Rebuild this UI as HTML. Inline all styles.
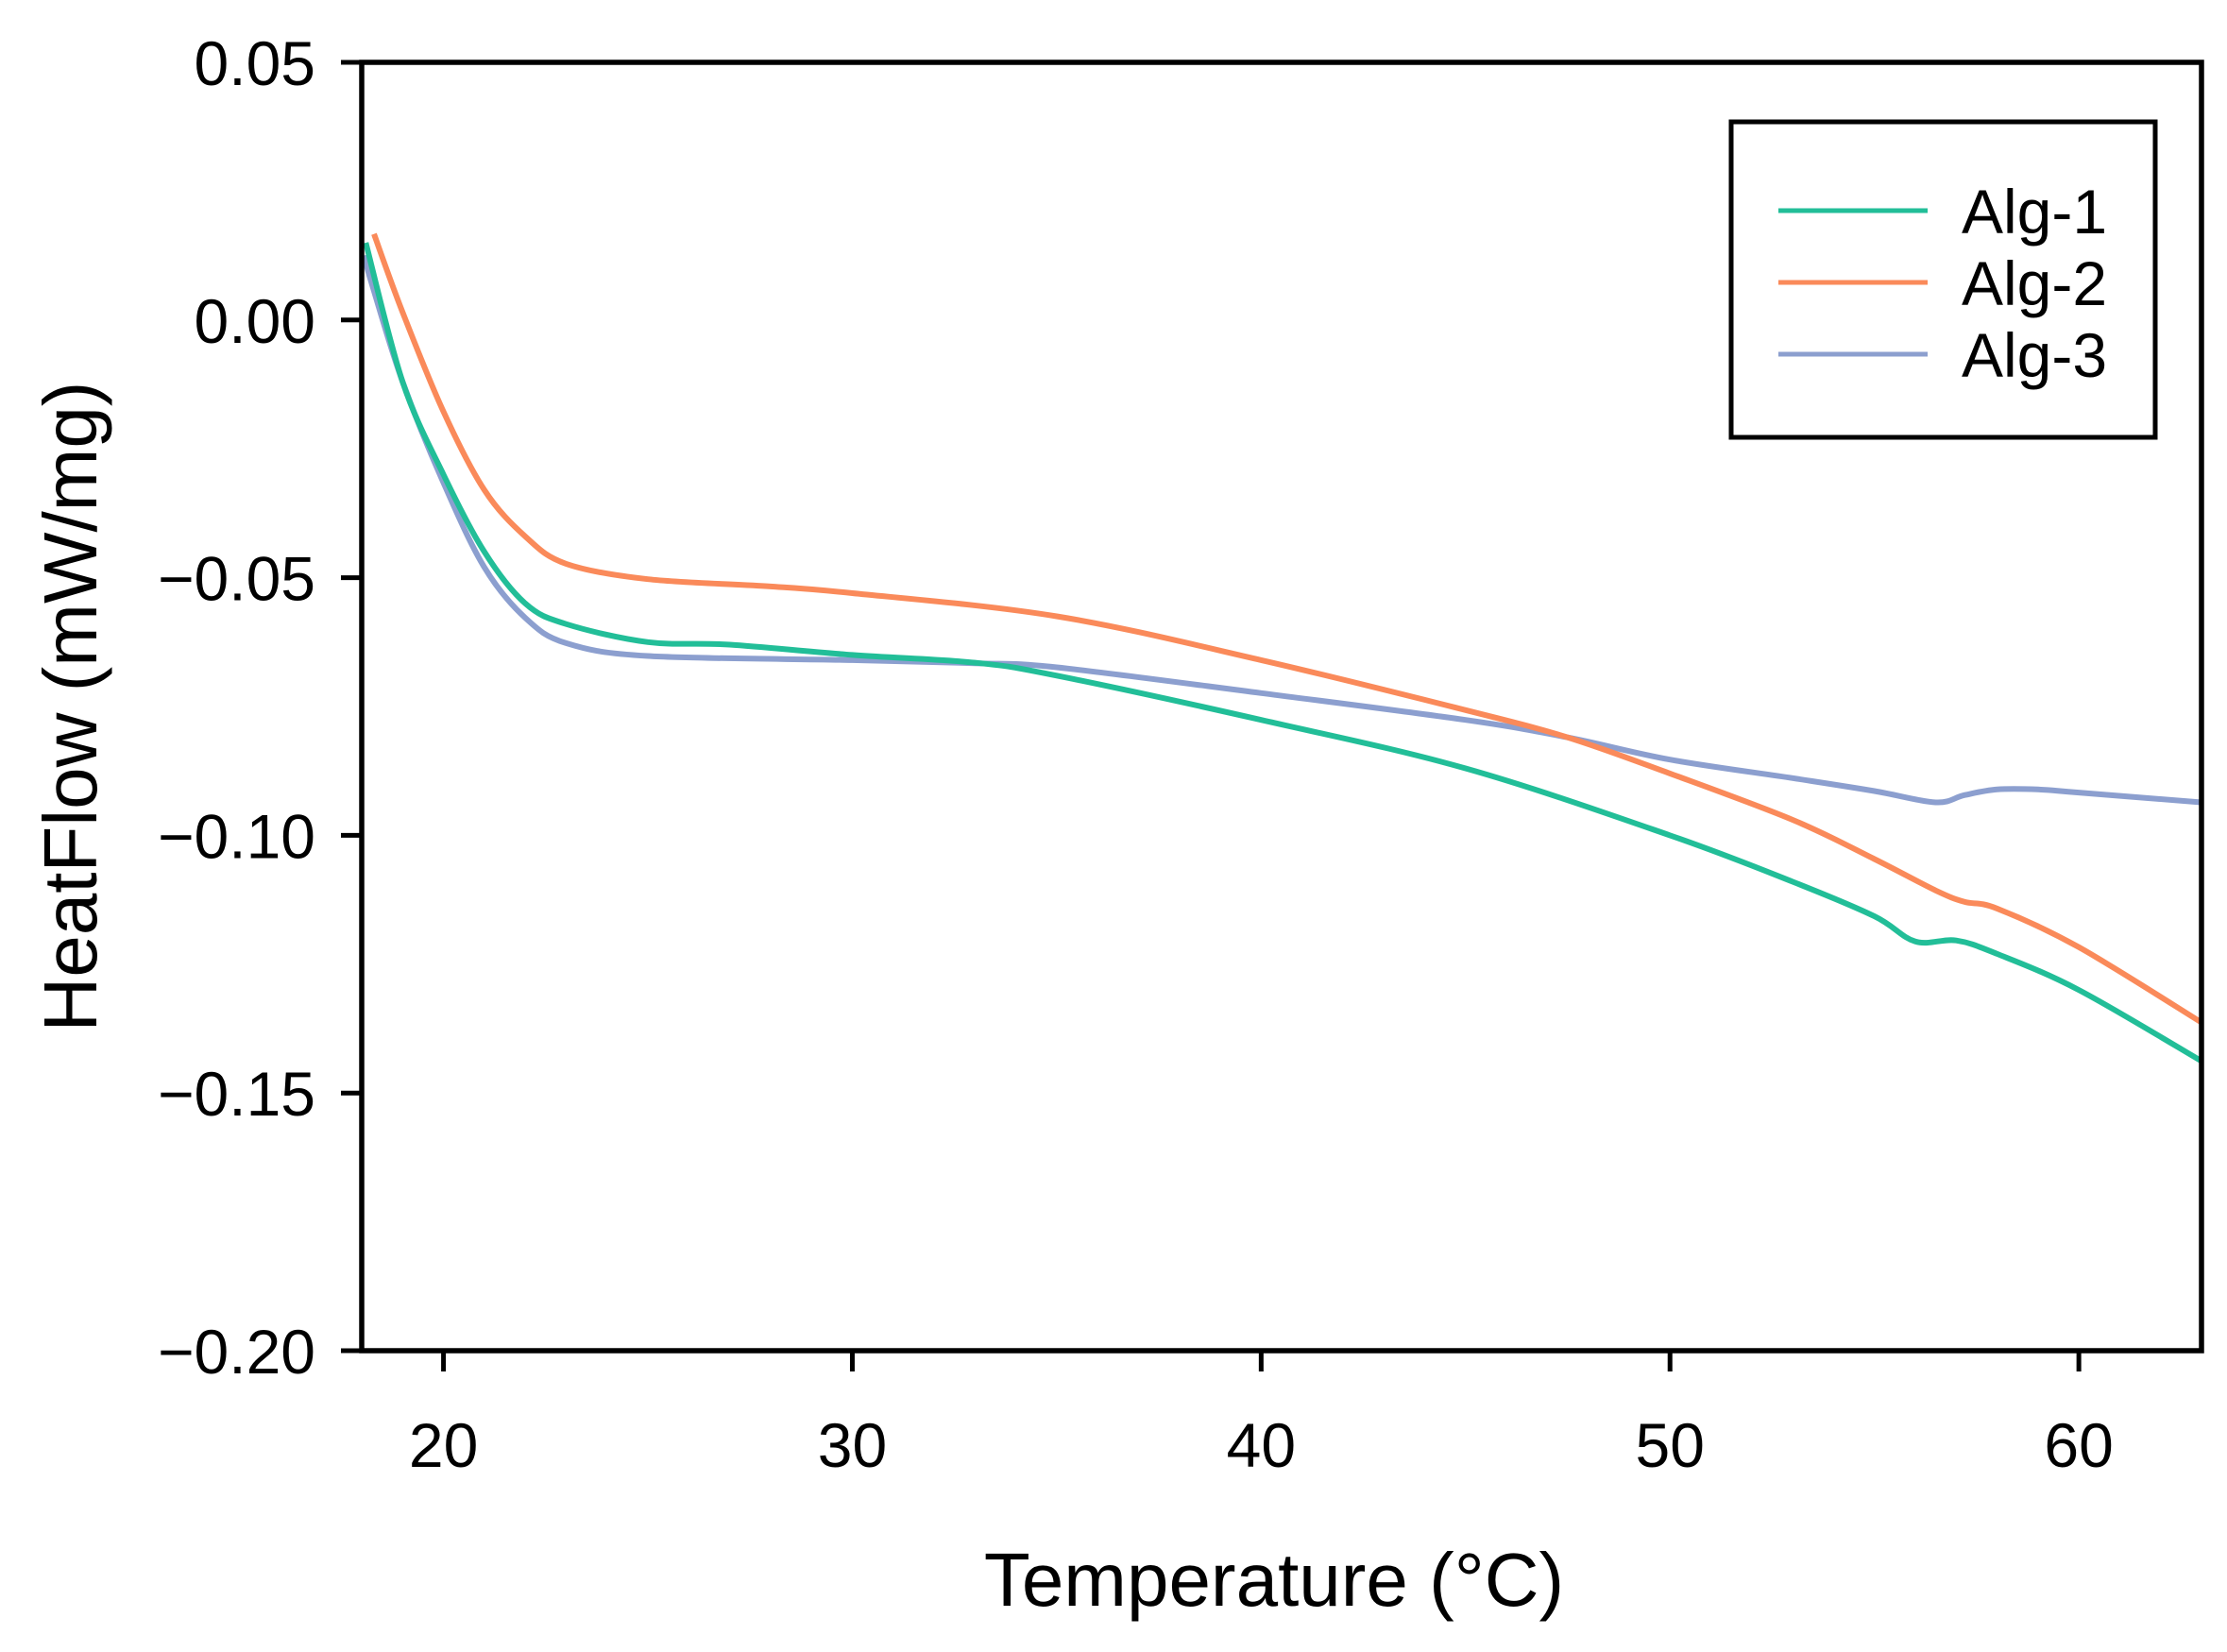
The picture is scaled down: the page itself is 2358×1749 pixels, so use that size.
<!DOCTYPE html>
<html><head><meta charset="utf-8"><style>
html,body{margin:0;padding:0;background:#fff;}
svg{display:block;font-family:"Liberation Sans",Arial,sans-serif;}
</style></head><body>
<svg id="chart" width="2358" height="1749" viewBox="0 0 2358 1749">
<g id="series"></g>
<rect x="383" y="66" width="1948" height="1364" fill="none" stroke="#000" stroke-width="5.5"/>
<g id="yticks"></g>
<g id="xticks"></g>
<text x="1349" y="1700" font-size="80" text-anchor="middle">Temperature (°C)</text>
<text transform="translate(102,748) rotate(-90)" font-size="80" text-anchor="middle">HeatFlow (mW/mg)</text>
<g>
<rect x="1833" y="129" width="449" height="334" fill="#fff" stroke="#000" stroke-width="5"/>
<g id="legend-entries"></g>
</g>
</svg>
<script>
const xTicks=[20,30,40,50,60];
const yTicks=[0.05,0,-0.05,-0.10,-0.15,-0.20];
const yTickLabels=["0.05","0.00","\u22120.05","\u22120.10","\u22120.15","\u22120.20"];
const seriesNames=["Alg-1","Alg-2","Alg-3"];
const alg1T=[18.1,19,20,21,22,23,25,27,30,33,35,40,45,50,53,55,56,57,58,60,63];
const alg1V=[0.015,-0.012,-0.030,-0.045,-0.055,-0.059,-0.0625,-0.063,-0.065,-0.0665,-0.069,-0.0776,-0.087,-0.100,-0.109,-0.1157,-0.1206,-0.1204,-0.123,-0.130,-0.1438];
const alg2T=[18.3,19,20,21,22,23,25,28,30,35,40,45,47.5,50,53,55,56.5,57.2,58,60,63];
const alg2V=[0.0167,0.0015,-0.0178,-0.033,-0.042,-0.0473,-0.0503,-0.0517,-0.053,-0.0575,-0.066,-0.0757,-0.081,-0.088,-0.097,-0.1046,-0.1107,-0.1129,-0.1142,-0.1217,-0.1363];
const alg3T=[18.05,18.3,19,20,21,22,23,25,30,33,35,40,45,47.5,50,53,55,56.5,57.2,58,59,60,63];
const alg3V=[0.0125,0.0056,-0.012,-0.0316,-0.048,-0.0578,-0.0627,-0.0652,-0.066,-0.0666,-0.0674,-0.0724,-0.0776,-0.081,-0.0853,-0.0889,-0.0914,-0.0936,-0.0922,-0.0911,-0.0911,-0.0917,-0.0936];
const colors=["#22BE98","#FA8A5A","#8C9FCF"];

const X0=383,X1=2331,Y0=66,Y1=1430,xmin=18,xmax=63,ymin=-0.20,ymax=0.05;
const sx=t=>X0+(t-xmin)/(xmax-xmin)*(X1-X0);
const sy=v=>Y1-(v-ymin)/(ymax-ymin)*(Y1-Y0);
const NS="http://www.w3.org/2000/svg";
function mk(tag,attrs,parent){const e=document.createElementNS(NS,tag);for(const k in attrs)e.setAttribute(k,attrs[k]);parent.appendChild(e);return e;}

function smoothPath(T,V){
  const p=T.map((t,i)=>[sx(t),sy(V[i])]);
  let d="M"+p[0][0].toFixed(1)+","+p[0][1].toFixed(1);
  for(let i=0;i<p.length-1;i++){
    const p0=p[i-1]||p[i],p1=p[i],p2=p[i+1],p3=p[i+2]||p2;
    const c1=[p1[0]+(p2[0]-p0[0])/6,p1[1]+(p2[1]-p0[1])/6];
    const c2=[p2[0]-(p3[0]-p1[0])/6,p2[1]-(p3[1]-p1[1])/6];
    d+="C"+c1.map(n=>n.toFixed(1)).join(",")+" "+c2.map(n=>n.toFixed(1)).join(",")+" "+p2.map(n=>n.toFixed(1)).join(",");
  }
  return d;
}
const sg=document.getElementById("series");
const data=[[alg1T,alg1V],[alg2T,alg2V],[alg3T,alg3V]];
[2,0,1].forEach(i=>{
  const path=mk("path",{d:smoothPath(data[i][0],data[i][1]),fill:"none",stroke:colors[i],"stroke-width":6,"stroke-linejoin":"round"},sg);
  
  
});
const yg=document.getElementById("yticks");
yTicks.forEach((v,i)=>{
  const l=mk("line",{x1:X0-22,x2:X0,y1:sy(v),y2:sy(v),stroke:"#000","stroke-width":5},yg);
  
  
  const t=mk("text",{x:334,y:sy(v)+24,"font-size":66,"text-anchor":"end"},yg);
  t.textContent=yTickLabels[i];
  
  
});
const xg=document.getElementById("xticks");
xTicks.forEach(v=>{
  const l=mk("line",{x1:sx(v),x2:sx(v),y1:Y1,y2:Y1+22,stroke:"#000","stroke-width":5},xg);
  
  
  const t=mk("text",{x:sx(v),y:1553,"font-size":66,"text-anchor":"middle"},xg);
  t.textContent=v;
  
  
});
const lg=document.getElementById("legend-entries");
seriesNames.forEach((n,i)=>{
  const y=223+i*76;
  const l=mk("line",{x1:1883,x2:2041,y1:y,y2:y,stroke:colors[i],"stroke-width":5},lg);
  
  
  const t=mk("text",{x:2077,y:y+24,"font-size":66},lg);
  t.textContent=n;
  
  
});
</script>
</body></html>
